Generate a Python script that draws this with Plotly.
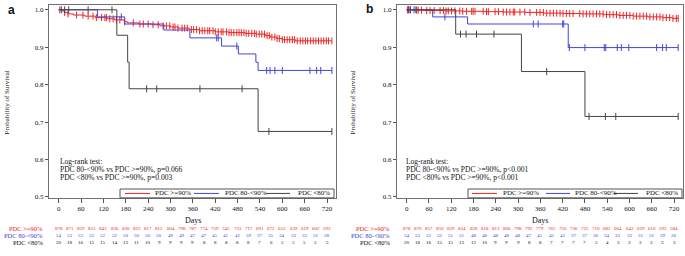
import numpy as np
import plotly.graph_objects as go

# ---------------- data ----------------
RISK_DAYS = [0, 30, 60, 90, 120, 150, 180, 210, 240, 270, 300, 330, 360, 390, 420, 450,
             480, 510, 540, 570, 600, 630, 660, 690, 720]
X_TICKS = [0, 60, 120, 180, 240, 300, 360, 420, 480, 540, 600, 660, 720]
Y_TICKS = [0.5, 0.6, 0.7, 0.8, 0.9, 1.0]
GROUPS = ["PDC >=90%", "PDC 80-<90%", "PDC <80%"]

# Panel a
A_RISK_HI = [878, 871, 859, 853, 843, 836, 830, 822, 817, 812, 804, 798, 787, 774, 759, 745,
             733, 717, 691, 673, 652, 639, 619, 602, 592]
A_RISK_MID = [54, 53, 53, 53, 52, 52, 50, 50, 50, 50, 49, 49, 47, 47, 45, 41, 41, 39, 37, 35,
              34, 33, 33, 31, 28]
A_RISK_LO = [20, 18, 16, 15, 15, 14, 13, 11, 10, 9, 9, 9, 9, 8, 8, 8, 8, 8, 7, 6, 5, 5, 5, 5, 5]

A_HI_EVENT_DAYS = [8, 15, 24, 40, 70, 98, 130, 150, 176, 185, 215, 250, 272, 300, 320, 350,
                   378, 420, 455, 500, 530, 555, 568, 585, 600, 635]
A_HI_SURV = [0.997, 0.993, 0.989, 0.986, 0.983, 0.979, 0.976, 0.973, 0.968, 0.965, 0.962,
             0.960, 0.957, 0.954, 0.951, 0.947, 0.944, 0.941, 0.939, 0.937, 0.935, 0.931,
             0.927, 0.923, 0.920, 0.917]
A_HI_CENSOR = [3, 16, 25, 48, 65, 79, 92, 101, 115, 124, 128, 137, 146, 155, 164, 177, 200,
               218, 227, 240, 253, 267, 280, 289, 298, 307, 312, 320, 331, 338, 345, 356, 362,
               370, 378, 385, 392, 400, 405, 414, 420, 428, 436, 441, 450, 457, 463, 470, 478,
               484, 490, 497, 503, 510, 518, 525, 530, 538, 545, 552, 559, 565, 572, 580, 586,
               592, 600, 606, 613, 620, 627, 633, 640, 648, 655, 662, 668, 676, 683, 690, 697,
               704, 711, 718, 724, 733]

A_MID_EVENT_DAYS = [104, 177, 282, 352, 437, 482, 529, 535]
A_MID_SURV = [0.981, 0.962, 0.946, 0.925, 0.903, 0.882, 0.860, 0.838]
A_MID_CENSOR = [168, 424, 428, 478, 558, 567, 580, 600, 674, 692, 703, 733]

A_LO_EVENT_DAYS = [156, 185, 189, 535]
A_LO_SURV = [0.932, 0.860, 0.789, 0.675]
A_LO_CENSOR = [7, 16, 27, 79, 143, 236, 263, 379, 492, 564, 733]

# Panel b
B_RISK_HI = [878, 870, 857, 850, 839, 834, 828, 818, 813, 806, 798, 792, 779, 765, 750, 736,
             725, 710, 683, 664, 643, 629, 610, 593, 584]
B_RISK_MID = [54, 53, 53, 52, 51, 51, 48, 48, 48, 48, 48, 47, 45, 45, 43, 37, 37, 36, 34, 33,
              32, 31, 31, 29, 26]
B_RISK_LO = [20, 18, 16, 15, 15, 13, 12, 10, 9, 9, 9, 8, 8, 7, 7, 7, 7, 5, 4, 3, 3, 3, 3, 3, 3]

B_HI_EVENT_DAYS = [15, 45, 100, 150, 210, 260, 320, 370, 420, 470, 530, 570, 610, 650, 690, 715]
B_HI_SURV = [0.999, 0.998, 0.997, 0.996, 0.995, 0.994, 0.993, 0.991, 0.990, 0.989, 0.987,
             0.985, 0.983, 0.981, 0.979, 0.977]
B_HI_CENSOR = [2, 4, 9, 27, 31, 40, 54, 63, 74, 90, 99, 106, 112, 121, 130, 143, 151, 161, 175,
               179, 184, 206, 215, 220, 238, 247, 260, 269, 278, 287, 291, 305, 318, 332, 350,
               359, 368, 377, 386, 395, 404, 413, 421, 430, 439, 448, 466, 475, 484, 493, 502,
               511, 520, 529, 538, 547, 556, 565, 574, 583, 592, 601, 610, 619, 628, 637, 646,
               655, 664, 673, 682, 690, 699, 708, 717, 726, 731]

B_MID_EVENT_DAYS = [70, 164, 435]
B_MID_SURV = [0.981, 0.962, 0.899]
B_MID_CENSOR = [5, 20, 103, 341, 354, 420, 423, 438, 480, 532, 536, 567, 578, 598, 673, 689,
                699, 731]

B_LO_EVENT_DAYS = [132, 309, 480]
B_LO_SURV = [0.935, 0.835, 0.715]
B_LO_CENSOR = [10, 25, 145, 160, 188, 235, 377, 491, 535, 563, 731]

# ---------------- style ----------------
W, H = 685, 256
RED, BLUE, BLACK = "#EE2424", "#4444DD", "#444444"
COLORS = [RED, BLUE, BLACK]
FRAME = "#707070"
SERIF = "Liberation Serif"
TEXT = "#111111"


def PX(x):
    return x / W


def PY(y):
    return 1 - y / H


def surv_at(days, survs, t):
    i = np.searchsorted(np.asarray(days), t, side="right") - 1
    return 1.0 if i < 0 else survs[i]


fig = go.Figure()

panels = [
    ("x", "y", [(A_HI_EVENT_DAYS, A_HI_SURV, A_HI_CENSOR),
                (A_MID_EVENT_DAYS, A_MID_SURV, A_MID_CENSOR),
                (A_LO_EVENT_DAYS, A_LO_SURV, A_LO_CENSOR)]),
    ("x2", "y2", [(B_HI_EVENT_DAYS, B_HI_SURV, B_HI_CENSOR),
                  (B_MID_EVENT_DAYS, B_MID_SURV, B_MID_CENSOR),
                  (B_LO_EVENT_DAYS, B_LO_SURV, B_LO_CENSOR)]),
]

for xr, yr, groups in panels:
    for (ev, sv, cen), col, name in zip(groups, COLORS, GROUPS):
        end = max(cen + ev)
        xs = [0] + list(ev) + [end]
        ys = [1.0] + list(sv) + [sv[-1]]
        fig.add_trace(go.Scatter(x=xs, y=ys, mode="lines", line=dict(color=col, width=1, shape="hv"),
                                 xaxis=xr, yaxis=yr, showlegend=False, hoverinfo="skip"))
        fig.add_trace(go.Scatter(x=cen, y=[surv_at(ev, sv, c) for c in cen], mode="markers",
                                 marker=dict(symbol="line-ns", size=5, color=col,
                                             line=dict(color=col, width=1)),
                                 xaxis=xr, yaxis=yr, showlegend=False, hoverinfo="skip"))

ydom = [PY(201), PY(5)]
axis_common = dict(showline=True, mirror=True, linecolor=FRAME, linewidth=1, showgrid=False,
                   zeroline=False, ticks="outside", tickcolor="#555555", tickwidth=1,
                   tickfont=dict(family=SERIF, size=7, color=TEXT))
fig.update_layout(
    width=W, height=H, margin=dict(l=0, r=0, t=0, b=0),
    paper_bgcolor="white", plot_bgcolor="white", showlegend=False,
    font=dict(family=SERIF, size=7, color=TEXT),
    xaxis=dict(domain=[PX(49), PX(336)], range=[-26, 744], tickvals=X_TICKS, ticklen=4,
               anchor="y", **axis_common),
    yaxis=dict(domain=ydom, range=[0.4975, 1.013], tickvals=Y_TICKS, tickformat=".1f",
               ticklen=3, anchor="x", **axis_common),
    xaxis2=dict(domain=[PX(397), PX(683)], range=[-26, 744], tickvals=X_TICKS, ticklen=4,
                anchor="y2", **axis_common),
    yaxis2=dict(domain=ydom, range=[0.4975, 1.013], tickvals=Y_TICKS, tickformat=".1f",
                ticklen=3, anchor="x2", **axis_common),
)

ann = []
shapes = []


def txt(x, y, s, size=7, color=TEXT, xanchor="left", xref="paper", family=SERIF,
        textangle=0, bold=False):
    if bold:
        s = "<b>" + s + "</b>"
    ann.append(dict(x=x, y=y, xref=xref, yref="paper", text=s, showarrow=False,
                    xanchor=xanchor, yanchor="middle", textangle=textangle,
                    font=dict(family=family, size=size, color=color)))


def esc(s):
    return s.replace("<", "&lt;").replace(">", "&gt;")


# panel letters
txt(PX(6), PY(10), "a", size=12, family="Liberation Sans", bold=True)
txt(PX(364), PY(9), "b", size=12, family="Liberation Sans", bold=True)

# y titles
txt(PX(7), PY(104), "Probability of Survival", xanchor="center", textangle=-90)
txt(PX(353), PY(104), "Probability of Survival", xanchor="center", textangle=-90)

# Days labels
txt(360, PY(224), "Days", size=8, xanchor="center", xref="x")
txt(360, PY(224), "Days", size=8, xanchor="center", xref="x2")

# log-rank text
LOGRANK_A = ["Log-rank test:", "PDC 80-<90% vs PDC >=90%, p=0.066", "PDC <80% vs PDC >=90%, p=0.003"]
LOGRANK_B = ["Log-rank test:", "PDC 80-<90% vs PDC >=90%, p<0.001", "PDC <80% vs PDC >=90%, p<0.001"]
for lines, x0 in ((LOGRANK_A, 58), (LOGRANK_B, 404)):
    for s, yy in zip(lines, (164, 172.3, 180.6)):
        txt(PX(x0), PY(yy), esc(s), size=7.5)

# risk tables
rows_y = [232.6, 239.4, 246.4]
for xr, lab_x, risks in (("x", 45, (A_RISK_HI, A_RISK_MID, A_RISK_LO)),
                         ("x2", 392, (B_RISK_HI, B_RISK_MID, B_RISK_LO))):
    for r, col, name, yy in zip(risks, COLORS, GROUPS, rows_y):
        c = TEXT if col == BLACK else col
        txt(PX(lab_x), PY(yy), esc(name), size=6.5, color=c, xanchor="right")
        for d, v in zip(RISK_DAYS, r):
            txt(d, PY(yy), str(v), size=5, color=c, xanchor="center", xref=xr)

# manual legends
legs = [
    (120, 334, [(125, 150, 153), (194, 219, 223), (266, 290, 296)]),
    (468, 682, [(472, 497, 501), (546, 570, 573), (614, 638, 644)]),
]
for x0, x1, items in legs:
    shapes.append(dict(type="rect", xref="paper", yref="paper", x0=PX(x0), x1=PX(x1),
                       y0=PY(201), y1=PY(192), line=dict(color="#555555", width=1),
                       fillcolor="white"))
    for (l0, l1, tx), col, name in zip(items, COLORS, GROUPS):
        shapes.append(dict(type="line", xref="paper", yref="paper", x0=PX(l0), x1=PX(l1),
                           y0=PY(196.5), y1=PY(196.5), line=dict(color=col, width=1)))
        txt(PX(tx), PY(196.5), esc(name), size=7)

fig.update_layout(annotations=ann, shapes=shapes)
fig.write_html("out.html", config={"displayModeBar": False},
               post_script="document.body.style.margin='0';document.body.style.padding='0';")
